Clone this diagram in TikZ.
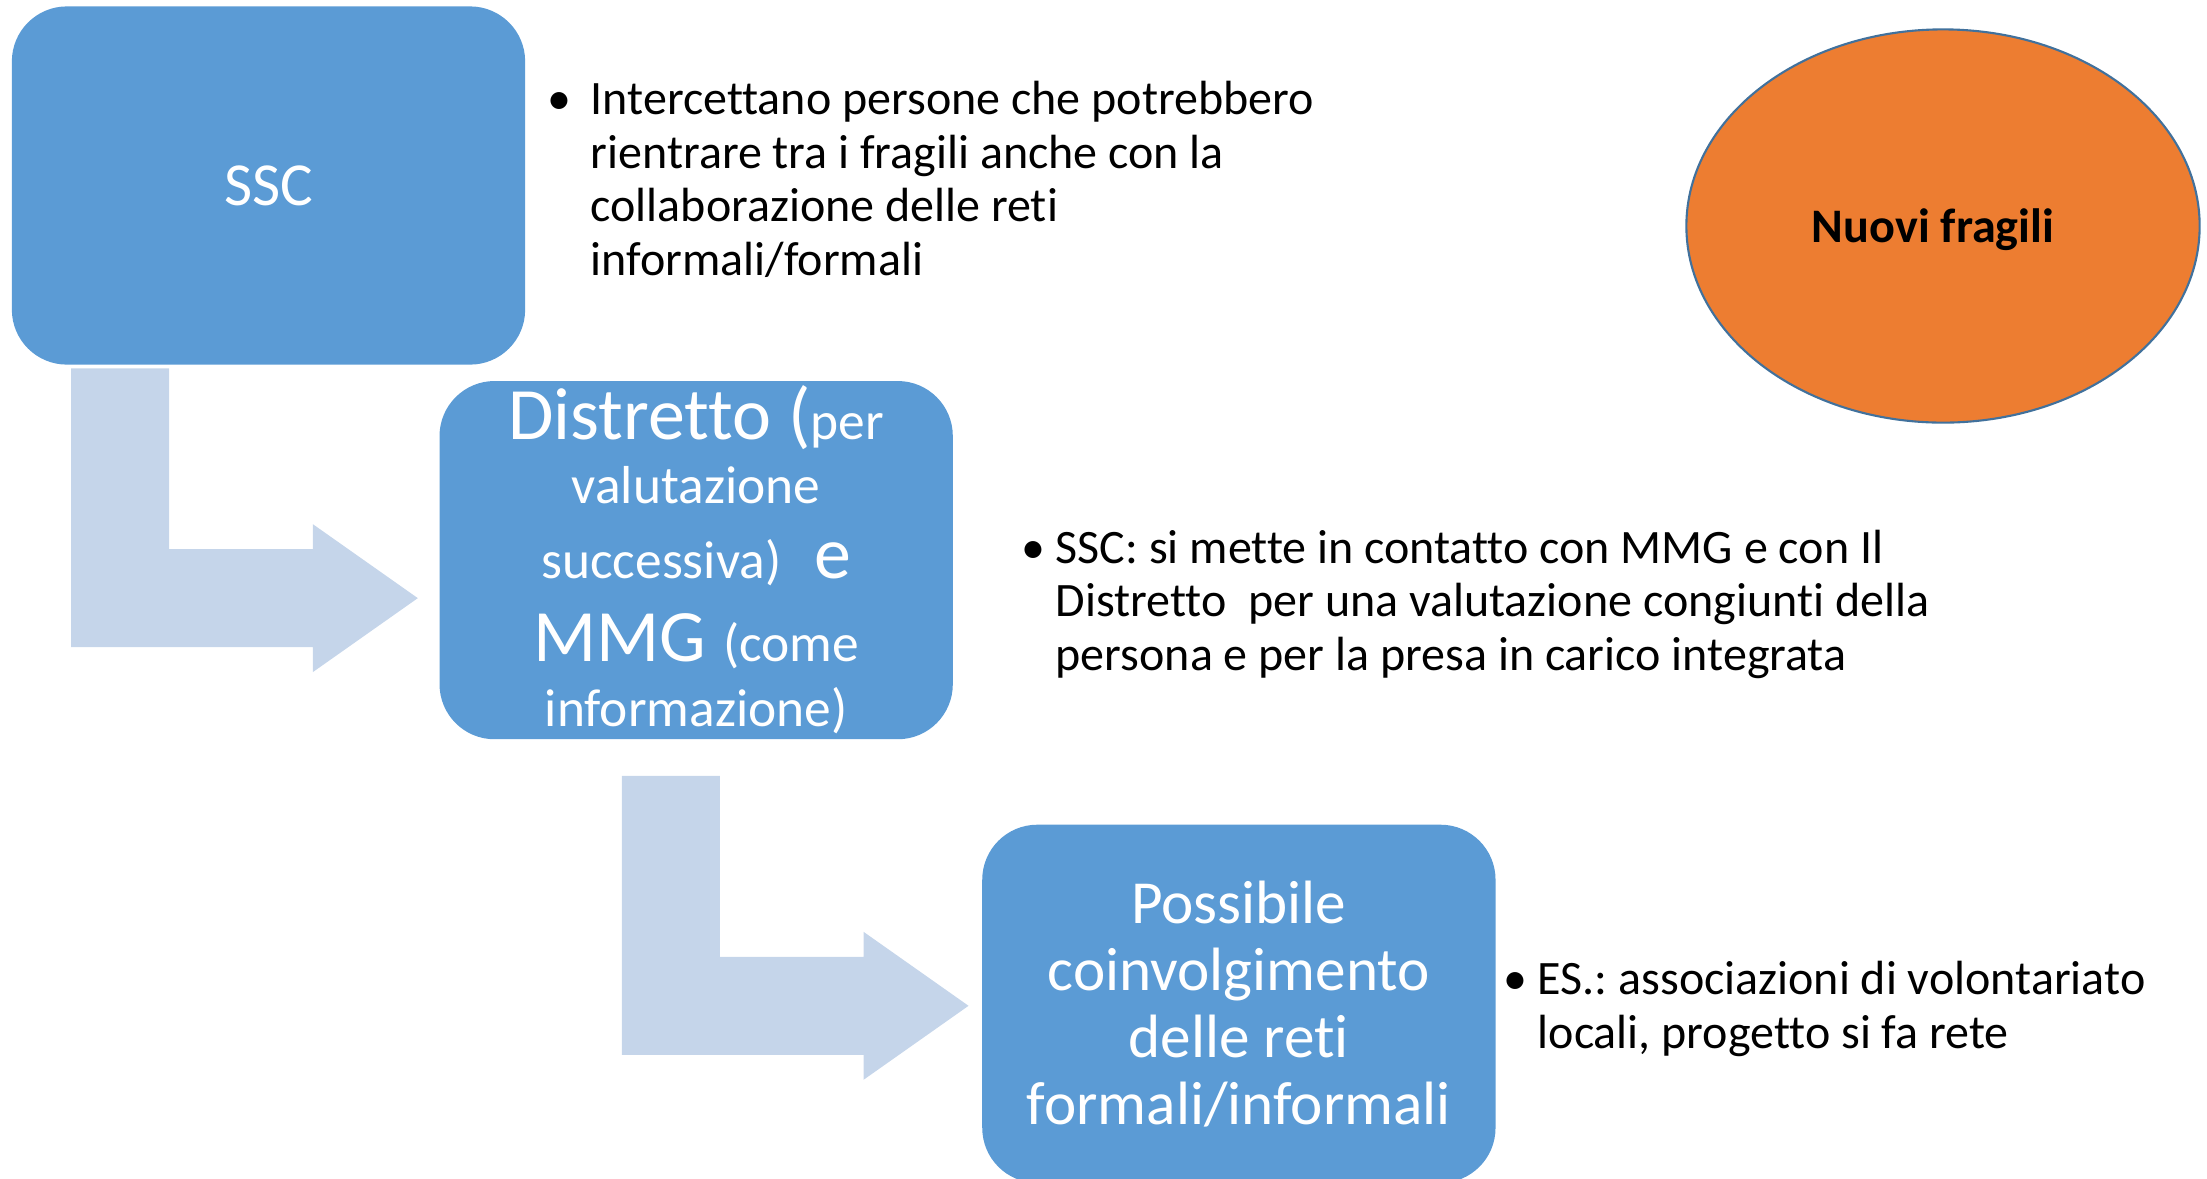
\documentclass[tikz,border=0pt]{standalone}
\usepackage{fontspec}
\setmainfont{Carlito}[Ligatures=NoCommon]
\usetikzlibrary{positioning,calc,shapes.geometric}
\definecolor{boxblue}{HTML}{5B9BD5}
\definecolor{flowblue}{HTML}{C5D5EA}
\definecolor{fragorange}{HTML}{ED7D31}
\definecolor{fragedge}{HTML}{41719C}
\frenchspacing

\newcommand\bigtxt{\fontsize{21}{18.2}\selectfont}
\newcommand\smalltxt{\fontsize{15.2}{18.2}\selectfont}
% #1 = top left of the shaft, #2 = tip of the head
\newcommand\bentarrow[2]{%
  \fill[flow] (#1) -- ++(98,0) |- ($(#2)+(-105,-49)$) -- ++(0,-25) -- (#2)
    -- ++(-105,74) -- ++(0,-25) -| cycle;}

\begin{document}
\begin{tikzpicture}[x=0.01cm,y=-0.01cm,
    box/.style={rectangle,rounded corners=0.55cm,fill=boxblue,text=white,
      minimum width=5.13cm,minimum height=3.58cm,inner sep=0pt,align=center},
    note/.style={anchor=base west,align=left,inner sep=0pt,
      font=\fontsize{13.65}{15.2}\selectfont},
    flow/.style={fill=flowblue}]
  \useasboundingbox (0,0) rectangle (2207,1178);

  \node[box,font=\fontsize{17.4}{20}\selectfont] (ssc) at (268.5,185.5) {SSC};
  \node[box,below right=0.15cm and -0.87cm of ssc,
        font={\smalltxt\lineskiplimit=-30pt}] (distretto)
    {\bigtxt Distretto (\smalltxt per\\
     \smalltxt valutazione\\[0.11cm]
     \smalltxt successiva)\hspace{0.33cm}\bigtxt e\\[0.19cm]
     \bigtxt MMG \smalltxt(come\\[0.01cm]
     \smalltxt informazione)};
  \node[box,below right=0.84cm and 0.28cm of distretto,
        font=\fontsize{17.4}{19.1}\selectfont] (possibile)
    {Possibile\\coinvolgimento\\delle reti\\formali/informali};
  \node[ellipse,draw=fragedge,line width=0.6pt,fill=fragorange,
        minimum width=5.13cm,minimum height=3.93cm,inner sep=0pt,text depth=0pt,
        font=\fontsize{13.7}{16}\selectfont\bfseries] (fragili) at (1943,226)
    {Nuovi fragili\hspace*{0.2cm}};

  % bent arrows between the boxes
  \bentarrow{$(ssc.south west)+(60,3)$}{$(distretto.west)+(-21,38)$}
  \bentarrow{$(distretto.south west)+(183,36)$}{$(possibile.west)+(-13,2)$}

  % notes (anchored on the baseline of their last line)
  \node[note] (nota1) at (590,275)
    {\llap{\textbullet\hspace{0.19cm}}Intercettano persone che potrebbero\\
     rientrare tra i fragili anche con la\\
     collaborazione delle reti\\
     informali/formali};
  \node[note] (nota2) at (1055,670)
    {\llap{\textbullet\hspace{0.10cm}}SSC: si mette in contatto con MMG e con Il\\
     Distretto\ \ per una valutazione congiunti della\\
     persona e per la presa in carico integrata};
  \node[note] (nota3) at (1537,1048)
    {\llap{\textbullet\hspace{0.10cm}}ES.: associazioni di volontariato\\
     locali, progetto si fa rete};
\end{tikzpicture}
\end{document}
